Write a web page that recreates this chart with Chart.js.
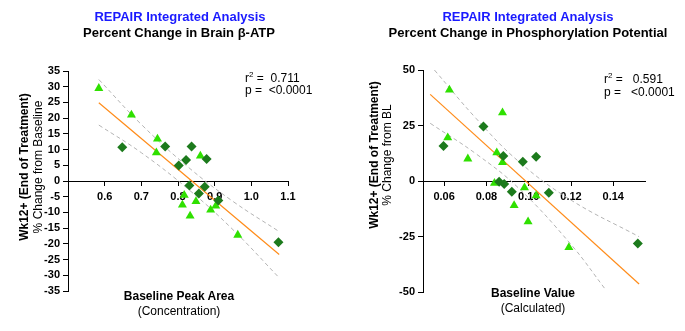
<!DOCTYPE html>
<html>
<head>
<meta charset="utf-8">
<script src="https://cdn.jsdelivr.net/npm/chart.js@4/dist/chart.umd.min.js"></script>
<style>
  html, body { margin: 0; padding: 0; background: #fff; }
  body { width: 685px; height: 331px; position: relative; overflow: hidden;
         font-family: "Liberation Sans", Arial, sans-serif; color: #000; }
  canvas { position: absolute; top: 0; }
  #c-atp { left: 0; }
  #c-pp  { left: 340px; }
  .txt { position: absolute; white-space: nowrap; line-height: 1; }
  .ttl { font-size: 13px; font-weight: bold; transform: translateX(-50%); }
  .ttl.blue { color: #1a1aff; }
  .xt { font-size: 12px; transform: translateX(-50%); }
  .b { font-weight: bold; }
  .yt { font-size: 12px; transform: translate(-50%, -50%) rotate(-90deg); }
  .stat { font-size: 12px; }
  .stat sup { font-size: 8px; vertical-align: 5px; }
</style>
</head>
<body>
<canvas id="c-atp" width="340" height="331"></canvas>
<canvas id="c-pp" width="345" height="331"></canvas>

<!-- ── Titles ─────────────────────────────────────────── -->
<div class="txt ttl blue" style="left:180px; top:10px;">REPAIR Integrated Analysis</div>
<div class="txt ttl" style="left:179px; top:26px;">Percent Change in Brain β-ATP</div>
<div class="txt ttl blue" style="left:528px; top:10px;">REPAIR Integrated Analysis</div>
<div class="txt ttl" style="left:528px; top:26px;">Percent Change in Phosphorylation Potential</div>

<!-- ── Axis titles ────────────────────────────────────── -->
<div class="txt yt b" style="left:24px; top:167px;">Wk12+ (End of Treatment)</div>
<div class="txt yt"   style="left:38px; top:167px;">% Change from Baseline</div>
<div class="txt yt b" style="left:374px; top:155px;">Wk12+ (End of Treatment)</div>
<div class="txt yt"   style="left:387px; top:155px;">% Change from BL</div>

<div class="txt xt b" style="left:179px; top:290px;">Baseline Peak Area</div>
<div class="txt xt"   style="left:179px; top:305px;">(Concentration)</div>
<div class="txt xt b" style="left:533px; top:287px;">Baseline Value</div>
<div class="txt xt"   style="left:533px; top:302px;">(Calculated)</div>

<!-- ── Stats ──────────────────────────────────────────── -->
<div class="txt stat" style="left:245px; top:71px;">r<sup>2</sup> =&nbsp; 0.711</div>
<div class="txt stat" style="left:245px; top:84px;">p =&nbsp; &lt;0.0001</div>
<div class="txt stat" style="left:604px; top:72px;">r<sup>2</sup> =&nbsp;&nbsp; 0.591</div>
<div class="txt stat" style="left:604px; top:86px;">p =&nbsp;&nbsp; &lt;0.0001</div>

<script>
// ── Data: Brain β-ATP ──────────────────────────────────────────────────────
const atpTriX = [0.584, 0.673, 0.744, 0.741, 0.861, 0.817, 0.849, 0.812, 0.833, 0.889, 0.903, 0.963];
const atpTriY = [29.5, 21.0, 13.4, 9.0, 8.0, -4.5, -6.5, -7.6, -11.1, -9.2, -7.9, -17.2];
const atpDiaX = [0.648, 0.765, 0.837, 0.822, 0.878, 0.802, 0.831, 0.873, 0.857, 0.910, 1.074];
const atpDiaY = [10.7, 11.0, 11.0, 6.7, 7.0, 4.9, -1.4, -1.8, -4.0, -6.2, -19.5];
const atpFitX = [0.584, 1.076];
const atpFitY = [24.9, -23.4];
const atpUpperX = [0.584, 0.70, 0.83, 0.95, 1.076];
const atpUpperY = [32.3, 18.0, 4.2, -6.5, -16.1];
const atpLowerX = [0.584, 0.70, 0.83, 0.95, 1.076];
const atpLowerY = [17.8, 9.0, -2.8, -15.5, -30.8];
const atpYTicks = [35, 30, 25, 20, 15, 10, 5, 0, -5, -10, -15, -20, -25, -30, -35];
const atpXTicks = [0.6, 0.7, 0.8, 0.9, 1.0, 1.1];

// ── Data: Phosphorylation Potential ───────────────────────────────────────
const ppTriX = [0.0625, 0.0876, 0.0617, 0.0712, 0.0849, 0.0876, 0.0838, 0.098, 0.1035, 0.0931, 0.0997, 0.119];
const ppTriY = [41.0, 30.8, 19.5, 10.0, 12.8, 8.4, -1.0, -3.0, -6.6, -11.0, -18.3, -29.9];
const ppDiaX = [0.0597, 0.0786, 0.088, 0.0972, 0.1035, 0.086, 0.0884, 0.092, 0.1095, 0.1516];
const ppDiaY = [15.8, 24.5, 11.3, 8.7, 10.9, -0.3, -1.3, -4.8, -5.3, -28.2];
const ppFitX = [0.0534, 0.1522];
const ppFitY = [39.0, -46.4];
const ppUpperX = [0.0554, 0.075, 0.095, 0.12, 0.1522];
const ppUpperY = [50.0, 28.3, 9.0, -8.6, -25.1];
const ppLowerX = [0.0534, 0.075, 0.095, 0.12, 0.1365];
const ppLowerY = [26.0, 12.3, -3.0, -28.6, -49.1];
const ppYTicks = [50, 25, 0, -25, -50];
const ppXTicks = [0.06, 0.08, 0.10, 0.12, 0.14];

// ── Helpers ────────────────────────────────────────────────────────────────
const pts = (xs, ys) => xs.map((x, i) => ({ x, y: ys[i] }));

const TRI_GREEN  = '#2fe000';
const DIA_GREEN  = '#1c7a1c';
const FIT_ORANGE = '#ff8c1a';
const BAND_GREY  = '#b4b4b4';

function buildChart(id, cfg) {
  const tickFont = { family: '"Liberation Sans", Arial, sans-serif', size: 11, weight: 'bold' };
  return new Chart(document.getElementById(id), {
    type: 'scatter',
    data: {
      datasets: [
        { type: 'line', data: pts(cfg.upperX, cfg.upper), borderColor: BAND_GREY, borderWidth: 1,
          borderDash: [4, 3], pointRadius: 0, tension: 0.4, order: 3 },
        { type: 'line', data: pts(cfg.lowerX, cfg.lower), borderColor: BAND_GREY, borderWidth: 1,
          borderDash: [4, 3], pointRadius: 0, tension: 0.4, order: 3 },
        { type: 'line', data: pts(cfg.fitX, cfg.fitY), borderColor: FIT_ORANGE, borderWidth: 1.2,
          pointRadius: 0, order: 2 },
        { data: pts(cfg.triX, cfg.triY), pointStyle: 'triangle', pointRadius: 5.2,
          backgroundColor: TRI_GREEN, borderColor: TRI_GREEN, borderWidth: 0, order: 1 },
        { data: pts(cfg.diaX, cfg.diaY), pointStyle: 'rectRot', pointRadius: 5,
          backgroundColor: DIA_GREEN, borderColor: DIA_GREEN, borderWidth: 0, order: 0 },
      ]
    },
    options: {
      responsive: false,
      animation: false,
      events: [],
      layout: { padding: cfg.padding },
      plugins: { legend: { display: false }, tooltip: { enabled: false } },
      scales: {
        x: {
          type: 'linear',
          position: { y: 0 },
          min: cfg.xMin, max: cfg.xMax,
          afterBuildTicks: s => { s.ticks = cfg.xTicks.map(v => ({ value: v })); },
          ticks: { font: tickFont, color: '#000', padding: 5, autoSkip: false, maxRotation: 0,
                   callback: v => v.toFixed(cfg.xDec) },
          grid: { drawOnChartArea: false, tickLength: 4, color: '#000' },
          border: { color: '#000', width: 1 },
        },
        y: {
          type: 'linear',
          min: cfg.yMin, max: cfg.yMax,
          afterBuildTicks: s => { s.ticks = cfg.yTicks.map(v => ({ value: v })); },
          afterFit: s => { s.width = cfg.yWidth; },
          ticks: { font: tickFont, color: '#000', padding: 3, autoSkip: false },
          grid: { drawOnChartArea: false, tickLength: 5, color: '#000' },
          border: { color: '#000', width: 1 },
        }
      }
    }
  });
}

// ── Init ───────────────────────────────────────────────────────────────────
buildChart('c-atp', {
  triX: atpTriX, triY: atpTriY, diaX: atpDiaX, diaY: atpDiaY, fitX: atpFitX, fitY: atpFitY,
  upperX: atpUpperX, upper: atpUpperY, lowerX: atpLowerX, lower: atpLowerY,
  xMin: 0.5, xMax: 1.1, yMin: -35, yMax: 35, xTicks: atpXTicks, yTicks: atpYTicks, xDec: 1,
  yWidth: 68, padding: { left: 0, top: 71, right: 52, bottom: 40 },
});

buildChart('c-pp', {
  triX: ppTriX, triY: ppTriY, diaX: ppDiaX, diaY: ppDiaY, fitX: ppFitX, fitY: ppFitY,
  upperX: ppUpperX, upper: ppUpperY, lowerX: ppLowerX, lower: ppLowerY,
  xMin: 0.05, xMax: 0.155, yMin: -50, yMax: 50, xTicks: ppXTicks, yTicks: ppYTicks, xDec: 2,
  yWidth: 83, padding: { left: 0, top: 70, right: 40, bottom: 39 },
});
</script>
</body>
</html>
